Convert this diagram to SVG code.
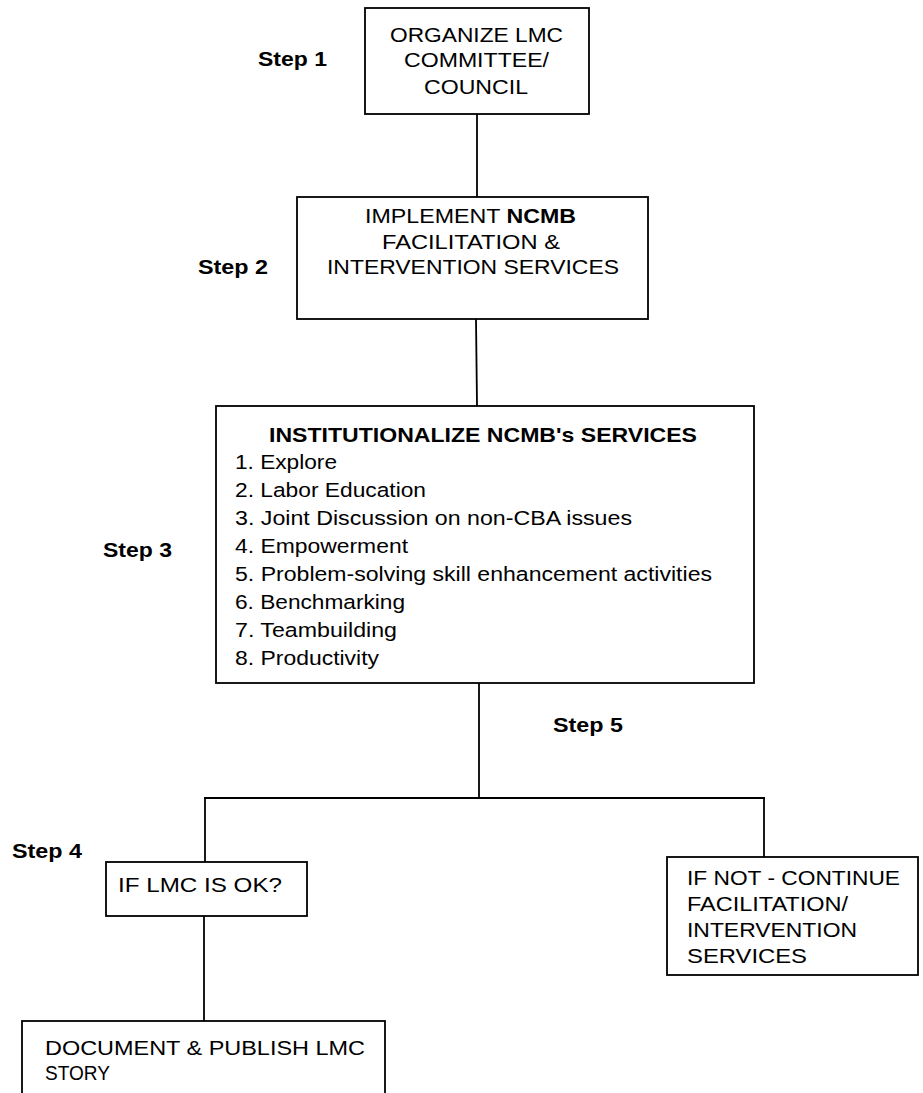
<svg xmlns="http://www.w3.org/2000/svg" width="923" height="1093" viewBox="0 0 923 1093">
<style>
.box{fill:#fff;stroke:#000;stroke-width:1.8}
.ln{fill:none;stroke:#000;stroke-width:1.8}
.t{font-family:"Liberation Sans",Arial,sans-serif;font-size:19.5px;fill:#000}
.li{font-family:"Liberation Sans",Arial,sans-serif;font-size:20.5px;fill:#000}
.b{font-weight:bold}
.st{font-family:"Liberation Sans",Arial,sans-serif;font-size:20px;font-weight:bold;fill:#000}
</style>
<rect width="923" height="1093" fill="#fff"/>
<g id="connectors">
<line class="ln" x1="477" y1="113" x2="477" y2="197"/>
<line class="ln" x1="476" y1="319" x2="477" y2="406"/>
<line class="ln" x1="479" y1="683" x2="479" y2="798"/>
<line class="ln" x1="204" y1="798" x2="765" y2="798"/>
<line class="ln" x1="205" y1="798" x2="205" y2="862"/>
<line class="ln" x1="764" y1="798" x2="764" y2="857"/>
<line class="ln" x1="204" y1="916" x2="204" y2="1021"/>
</g>
<g id="labels">
<text class="st" x="258" y="66" textLength="69" lengthAdjust="spacingAndGlyphs">Step 1</text>
<text class="st" x="198" y="274" textLength="70" lengthAdjust="spacingAndGlyphs">Step 2</text>
<text class="st" x="103" y="557" textLength="69" lengthAdjust="spacingAndGlyphs">Step 3</text>
<text class="st" x="12" y="858" textLength="70" lengthAdjust="spacingAndGlyphs">Step 4</text>
<text class="st" x="553" y="732" textLength="70" lengthAdjust="spacingAndGlyphs">Step 5</text>
</g>
<g id="node1">
<rect class="box" x="365" y="8" width="224" height="106"/>
<text class="t" x="390" y="42" textLength="173" lengthAdjust="spacingAndGlyphs">ORGANIZE LMC</text>
<text class="t" x="404" y="67" textLength="145" lengthAdjust="spacingAndGlyphs">COMMITTEE/</text>
<text class="t" x="424" y="94" textLength="104" lengthAdjust="spacingAndGlyphs">COUNCIL</text>
</g>
<g id="node2">
<rect class="box" x="297" y="197" width="351" height="122"/>
<text class="t" x="365" y="223" textLength="211" lengthAdjust="spacingAndGlyphs">IMPLEMENT <tspan class="b">NCMB</tspan></text>
<text class="t" x="382" y="249" textLength="178" lengthAdjust="spacingAndGlyphs">FACILITATION &amp;</text>
<text class="t" x="327" y="274" textLength="292" lengthAdjust="spacingAndGlyphs">INTERVENTION SERVICES</text>
</g>
<g id="node3">
<rect class="box" x="216" y="406" width="538" height="277"/>
<text class="li b" x="269" y="442" font-size="19.5" textLength="428" lengthAdjust="spacingAndGlyphs">INSTITUTIONALIZE NCMB's SERVICES</text>
<text class="li" x="235" y="469" textLength="102" lengthAdjust="spacingAndGlyphs">1. Explore</text>
<text class="li" x="235" y="497" textLength="191" lengthAdjust="spacingAndGlyphs">2. Labor Education</text>
<text class="li" x="235" y="525" textLength="397" lengthAdjust="spacingAndGlyphs">3. Joint Discussion on non-CBA issues</text>
<text class="li" x="235" y="553" textLength="173" lengthAdjust="spacingAndGlyphs">4. Empowerment</text>
<text class="li" x="235" y="581" textLength="477" lengthAdjust="spacingAndGlyphs">5. Problem-solving skill enhancement activities</text>
<text class="li" x="235" y="609" textLength="170" lengthAdjust="spacingAndGlyphs">6. Benchmarking</text>
<text class="li" x="235" y="637" textLength="162" lengthAdjust="spacingAndGlyphs">7. Teambuilding</text>
<text class="li" x="235" y="665" textLength="144" lengthAdjust="spacingAndGlyphs">8. Productivity</text>
</g>
<g id="node4">
<rect class="box" x="106" y="862" width="201" height="54"/>
<text class="t" x="118" y="892" textLength="164" lengthAdjust="spacingAndGlyphs">IF LMC IS OK?</text>
</g>
<g id="node5">
<rect class="box" x="667" y="857" width="251" height="118"/>
<text class="t" x="687" y="885" textLength="213" lengthAdjust="spacingAndGlyphs">IF NOT - CONTINUE</text>
<text class="t" x="687" y="911" textLength="161" lengthAdjust="spacingAndGlyphs">FACILITATION/</text>
<text class="t" x="687" y="937" textLength="170" lengthAdjust="spacingAndGlyphs">INTERVENTION</text>
<text class="t" x="687" y="963" textLength="120" lengthAdjust="spacingAndGlyphs">SERVICES</text>
</g>
<g id="node6">
<rect class="box" x="22" y="1021" width="363" height="90"/>
<text class="t" x="45" y="1055" textLength="320" lengthAdjust="spacingAndGlyphs">DOCUMENT &amp; PUBLISH LMC</text>
<text class="t" x="45" y="1080" textLength="65" lengthAdjust="spacingAndGlyphs">STORY</text>
</g>
</svg>
